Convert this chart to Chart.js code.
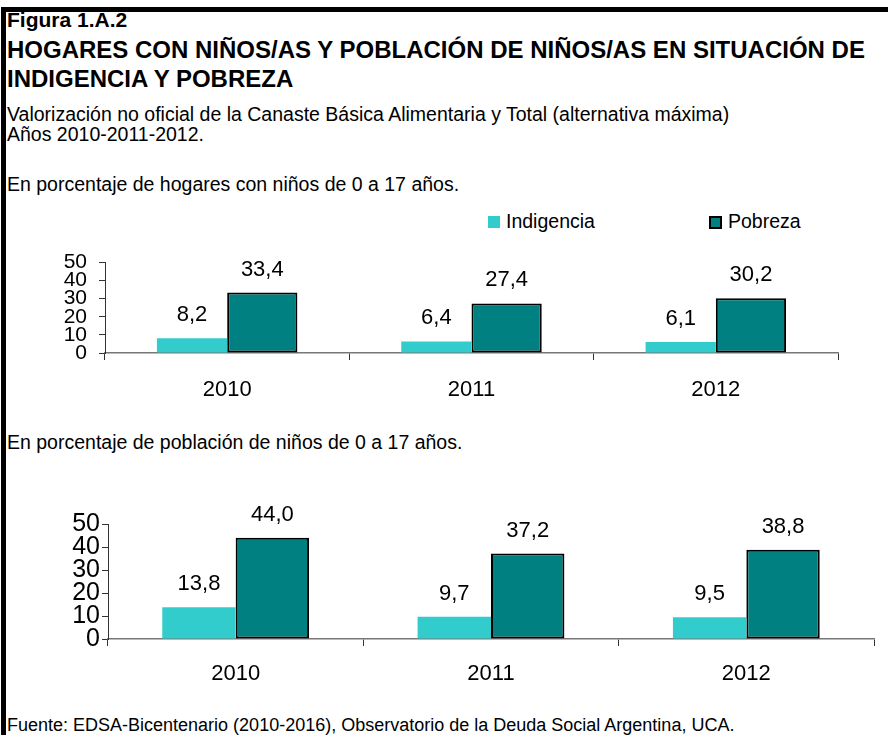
<!DOCTYPE html>
<html>
<head>
<meta charset="utf-8">
<script src="https://cdn.jsdelivr.net/npm/chart.js@4.4.1/dist/chart.umd.min.js"></script>
<style>
  body { margin: 0; background: #fff; }
  #page { position: relative; width: 888px; height: 735px; overflow: hidden; font-family: "Liberation Sans", Arial, sans-serif; color: #000; }
  .txt { position: absolute; left: 7px; white-space: nowrap; line-height: 1; }
  .bold { font-weight: bold; }
  .bar-top { position: absolute; left: 1px; top: 7px; width: 887px; height: 5px; background: #000; }
  .bar-left { position: absolute; left: 1px; top: 7px; width: 5px; height: 728px; background: #000; }
  .lg-box { position: absolute; box-sizing: border-box; }
  canvas { position: absolute; left: 0; }
</style>
</head>
<body>
<div id="page">
  <div class="bar-top"></div>
  <div class="bar-left"></div>

  <div class="txt bold" style="top:9px;font-size:21px">Figura 1.A.2</div>
  <div class="txt bold" style="top:38px;font-size:24px">HOGARES CON NIÑOS/AS Y POBLACIÓN DE NIÑOS/AS EN SITUACIÓN DE</div>
  <div class="txt bold" style="top:67px;font-size:24px">INDIGENCIA Y POBREZA</div>
  <div class="txt" style="top:105px;font-size:19.5px">Valorización no oficial de la Canaste Básica Alimentaria y Total (alternativa máxima)</div>
  <div class="txt" style="top:125px;font-size:19.5px">Años 2010-2011-2012.</div>
  <div class="txt" style="top:175px;font-size:19.5px">En porcentaje de hogares con niños de 0 a 17 años.</div>

  <!-- legend -->
  <div class="lg-box" style="left:488px;top:216px;width:12px;height:12px;background:#33cccc"></div>
  <div class="txt" style="left:506px;top:212px;font-size:19.5px">Indigencia</div>
  <div class="lg-box" style="left:709px;top:216px;width:13px;height:13px;background:#008080;border:2px solid #000"></div>
  <div class="txt" style="left:728px;top:212px;font-size:19.5px">Pobreza</div>

  <canvas id="chartHogares" width="888" height="170" style="top:240px"></canvas>

  <div class="txt" style="top:433px;font-size:19.5px">En porcentaje de población de niños de 0 a 17 años.</div>

  <canvas id="chartNinos" width="888" height="210" style="top:490px"></canvas>

  <div class="txt" style="top:716px;font-size:18px">Fuente: EDSA-Bicentenario (2010-2016), Observatorio de la Deuda Social Argentina, UCA.</div>
</div>

<script>
// data
const years = ["2010", "2011", "2012"];
const seriesNames = ["Indigencia", "Pobreza"];
const hogaresIndigencia = [8.2, 6.4, 6.1];
const hogaresPobreza = [33.4, 27.4, 30.2];
const ninosIndigencia = [13.8, 9.7, 9.5];
const ninosPobreza = [44.0, 37.2, 38.8];
const yMin = 0;
const yMax = 50;
const yStep = 10;

const colorIndigencia = "#33cccc";
const colorPobreza = "#008080";

Chart.defaults.font.family = '"Liberation Sans", Arial, sans-serif';
Chart.defaults.color = "#000";

// draws the value over each bar, with a decimal comma
const valueLabels = {
  id: "valueLabels",
  afterDatasetsDraw(chart) {
    const ctx = chart.ctx;
    ctx.save();
    ctx.font = '22px "Liberation Sans", Arial, sans-serif';
    ctx.fillStyle = "#000";
    ctx.textAlign = "center";
    ctx.textBaseline = "middle";
    chart.data.datasets.forEach((ds, i) => {
      chart.getDatasetMeta(i).data.forEach((bar, j) => {
        const txt = ds.data[j].toFixed(1).replace(".", ",");
        ctx.fillText(txt, bar.x, bar.y - 23);
      });
    });
    ctx.restore();
  }
};

function makeChart(id, indig, pobre, opts) {
  const ctx = document.getElementById(id).getContext("2d");
  return new Chart(ctx, {
    type: "bar",
    data: {
      labels: years,
      datasets: [
        {
          label: seriesNames[0],
          data: indig,
          backgroundColor: colorIndigencia,
          borderWidth: 0
        },
        {
          label: seriesNames[1],
          data: pobre,
          backgroundColor: colorPobreza,
          borderColor: "#000",
          borderWidth: 2,
          borderSkipped: false
        }
      ]
    },
    options: {
      responsive: false,
      animation: false,
      devicePixelRatio: 1,
      categoryPercentage: 0.575,
      barPercentage: 1,
      layout: { padding: { left: 0, right: opts.padRight, top: opts.padTop, bottom: 0 } },
      plugins: {
        legend: { display: false },
        tooltip: { enabled: false }
      },
      scales: {
        x: {
          grid: { drawOnChartArea: false, tickLength: 7, color: "#333", offset: true },
          border: { color: "#777", width: 1.5 },
          ticks: { font: { size: 22 }, padding: opts.xPad, maxRotation: 0 },
          afterFit: (scale) => { scale.height = opts.xHeight; }
        },
        y: {
          min: yMin,
          max: yMax,
          grid: { drawOnChartArea: false, tickLength: 6, color: "#333" },
          border: { color: "#333", width: 1 },
          ticks: {
            stepSize: yStep,
            autoSkip: false,
            font: { size: opts.yFont, lineHeight: 1 },
            padding: opts.yPad
          },
          afterFit: (scale) => { scale.width = opts.yWidth; }
        }
      }
    },
    plugins: [valueLabels]
  });
}

makeChart("chartHogares", hogaresIndigencia, hogaresPobreza, {
  padRight: 50, padTop: 21, xHeight: 57, xPad: 17, yWidth: 105, yFont: 21, yPad: 12
});

makeChart("chartNinos", ninosIndigencia, ninosPobreza, {
  padRight: 14, padTop: 34, xHeight: 61, xPad: 15, yWidth: 108, yFont: 25, yPad: 2
});
</script>
</body>
</html>
